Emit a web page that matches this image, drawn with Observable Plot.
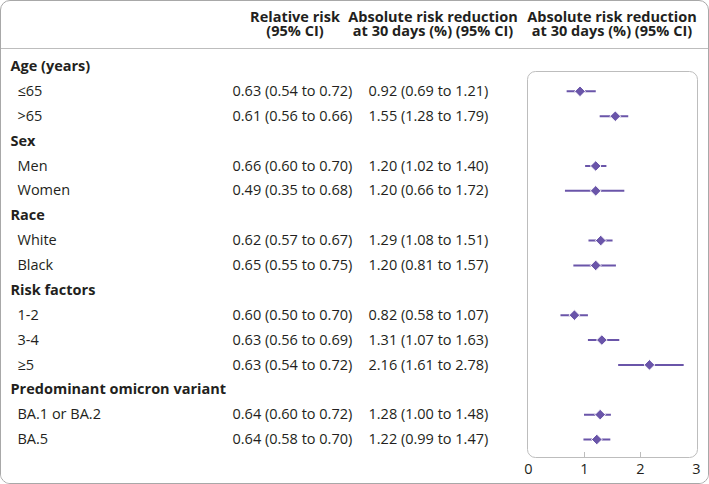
<!DOCTYPE html>
<html>
<head>
<meta charset="utf-8">
<script src="https://cdn.jsdelivr.net/npm/d3@7"></script>
<script src="https://cdn.jsdelivr.net/npm/@observablehq/plot@0.6"></script>
<style>
  html, body { margin: 0; padding: 0; background: #fff; }
  #fig { position: relative; width: 709px; height: 484px; box-sizing: border-box;
         border: 1px solid #a8a8a8; border-radius: 10px; overflow: hidden;
         font-family: "Open Sans", Lato, sans-serif; color: #231f20; }
  #hdr { position: relative; height: 47px; border-bottom: 1px solid #bdbdbd; }
  .h { position: absolute; font-weight: bold; font-size: 14.5px; line-height: 14px; height: 14px;
       text-align: center; white-space: nowrap; }
  .l1 { top: 9px; }
  .l2 { top: 23px; }
  svg { display: block; }
</style>
</head>
<body>
<div id="fig">
  <div id="hdr">
    <div class="h l1" style="left:214px;width:160px;">Relative risk</div>
    <div class="h l2" style="left:214px;width:160px;">(95% CI)</div>
    <div class="h l1" style="left:346px;width:172px;">Absolute risk reduction</div>
    <div class="h l2" style="left:346px;width:172px;">at 30 days (%) (95% CI)</div>
    <div class="h l1" style="left:525px;width:172px;">Absolute risk reduction</div>
    <div class="h l2" style="left:525px;width:172px;">at 30 days (%) (95% CI)</div>
  </div>
  <div id="chart"></div>
</div>
<script>
const groups = ["Age (years)", "Sex", "Race", "Risk factors", "Predominant omicron variant"];
const subgroups = ["≤65", ">65", "Men", "Women", "White", "Black", "1-2", "3-4", "≥5", "BA.1 or BA.2", "BA.5"];
const subgroupGroup = ["Age (years)", "Age (years)", "Sex", "Sex", "Race", "Race",
  "Risk factors", "Risk factors", "Risk factors", "Predominant omicron variant", "Predominant omicron variant"];
const rr = [0.63, 0.61, 0.66, 0.49, 0.62, 0.65, 0.60, 0.63, 0.63, 0.64, 0.64];
const rrLow = [0.54, 0.56, 0.60, 0.35, 0.57, 0.55, 0.50, 0.56, 0.54, 0.60, 0.58];
const rrHigh = [0.72, 0.66, 0.70, 0.68, 0.67, 0.75, 0.70, 0.69, 0.72, 0.72, 0.70];
const arr = [0.92, 1.55, 1.20, 1.20, 1.29, 1.20, 0.82, 1.31, 2.16, 1.28, 1.22];
const arrLow = [0.69, 1.28, 1.02, 0.66, 1.08, 0.81, 0.58, 1.07, 1.61, 1.00, 0.99];
const arrHigh = [1.21, 1.79, 1.40, 1.72, 1.51, 1.57, 1.07, 1.63, 2.78, 1.48, 1.47];
const xTicks = [0, 1, 2, 3];

const f2 = d3.format(".2f");
const rowKeys = [];
const headerRows = [];
const dataRows = [];
groups.forEach(g => {
  rowKeys.push("g:" + g);
  headerRows.push({key: "g:" + g, label: g});
  subgroups.forEach((s, i) => {
    if (subgroupGroup[i] !== g) return;
    rowKeys.push("s:" + s);
    dataRows.push({
      key: "s:" + s, label: s,
      est: arr[i], lo: arrLow[i], hi: arrHigh[i],
      rrText: `${f2(rr[i])} (${f2(rrLow[i])} to ${f2(rrHigh[i])})`,
      arrText: `${f2(arr[i])} (${f2(arrLow[i])} to ${f2(arrHigh[i])})`
    });
  });
});

const purple = "#6a55a9";
const ink = "#231f20";

const chart = Plot.plot({
  width: 707,
  height: 434,
  marginLeft: 526,
  marginRight: 11,
  marginTop: 22,
  marginBottom: 26,
  style: {fontFamily: "'Open Sans', Lato, sans-serif", fontSize: "14.5px", color: ink, background: "white"},
  x: {domain: [0, 3], insetLeft: 1, insetRight: 1, label: null},
  y: {type: "point", domain: rowKeys, range: [17, 390], padding: 0, round: false, axis: null},
  marks: [
    Plot.frame({stroke: "#bdbdbd", rx: 8, ry: 8}),
    Plot.tickX(xTicks.slice(1, -1), {x: d => d, stroke: "#bdbdbd", insetTop: 381}),
    Plot.axisX({ticks: xTicks, tickFormat: d3.format("d"), tickSize: 0, tickPadding: 6, fontSize: 14.5, fill: ink, label: null}),
    Plot.text(headerRows, {y: "key", text: "label", frameAnchor: "left", dx: -517, textAnchor: "start", fontWeight: "bold", fill: ink}),
    Plot.text(dataRows, {y: "key", text: "label", frameAnchor: "left", dx: -510, textAnchor: "start", fill: ink}),
    Plot.text(dataRows, {y: "key", text: "rrText", frameAnchor: "left", dx: -295, textAnchor: "start", fill: ink}),
    Plot.text(dataRows, {y: "key", text: "arrText", frameAnchor: "left", dx: -159, textAnchor: "start", fill: ink}),
    Plot.ruleY(dataRows, {y: "key", x1: "lo", x2: "hi", stroke: purple, strokeWidth: 2}),
    Plot.dot(dataRows, {y: "key", x: "est", symbol: "diamond2", r: 4.8, fill: purple, stroke: "white", strokeWidth: 1})
  ]
});
document.getElementById("chart").appendChild(chart);
</script>
</body>
</html>
